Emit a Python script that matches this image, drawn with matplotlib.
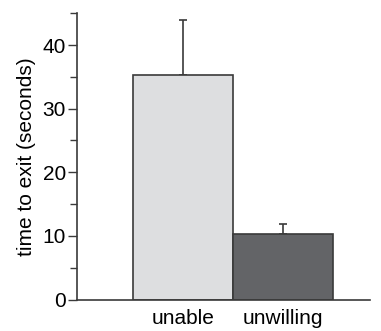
import numpy as np
import matplotlib.pyplot as plt
from matplotlib.ticker import MultipleLocator

plt.rcParams['font.family'] = ['Liberation Sans', 'DejaVu Sans']

# data
groups = ['unable', 'unwilling']
means = [35.35, 10.35]
errs = [8.55, 1.55]
colors = ['#dddee0', '#636467']

fig = plt.figure(figsize=(3.81, 3.31), dpi=100)
ax = fig.add_axes([0.202, 0.095, 0.769, 0.866])

x = np.arange(len(groups))
ax.bar(x, means, width=1.0, color=colors, edgecolor='#3a3a3a', linewidth=1.2, zorder=2)
ax.errorbar(x, means, yerr=[np.zeros(len(errs)), errs], fmt='none',
            ecolor='#3a3a3a', elinewidth=1.2, capsize=3, capthick=1.2, zorder=1)

ax.set_xlim(-1.06, 1.87)
ax.set_ylim(0, 45.05)
ax.set_xticks(x)
ax.set_xticklabels(groups, fontsize=15)
ax.tick_params(axis='x', length=0, pad=7)
ax.yaxis.set_major_locator(MultipleLocator(10))
ax.yaxis.set_minor_locator(MultipleLocator(5))
ax.tick_params(axis='y', which='major', length=6.5, width=1, labelsize=15, pad=1.5, color='#3a3a3a')
ax.tick_params(axis='y', which='minor', length=4.8, width=1, color='#3a3a3a')
ax.set_ylabel('time to exit (seconds)', fontsize=15, labelpad=5)

for s in ['top', 'right']:
    ax.spines[s].set_visible(False)
for s in ['left', 'bottom']:
    ax.spines[s].set_color('#3a3a3a')
    ax.spines[s].set_linewidth(1.2)

fig.savefig('out.png', dpi=100)
